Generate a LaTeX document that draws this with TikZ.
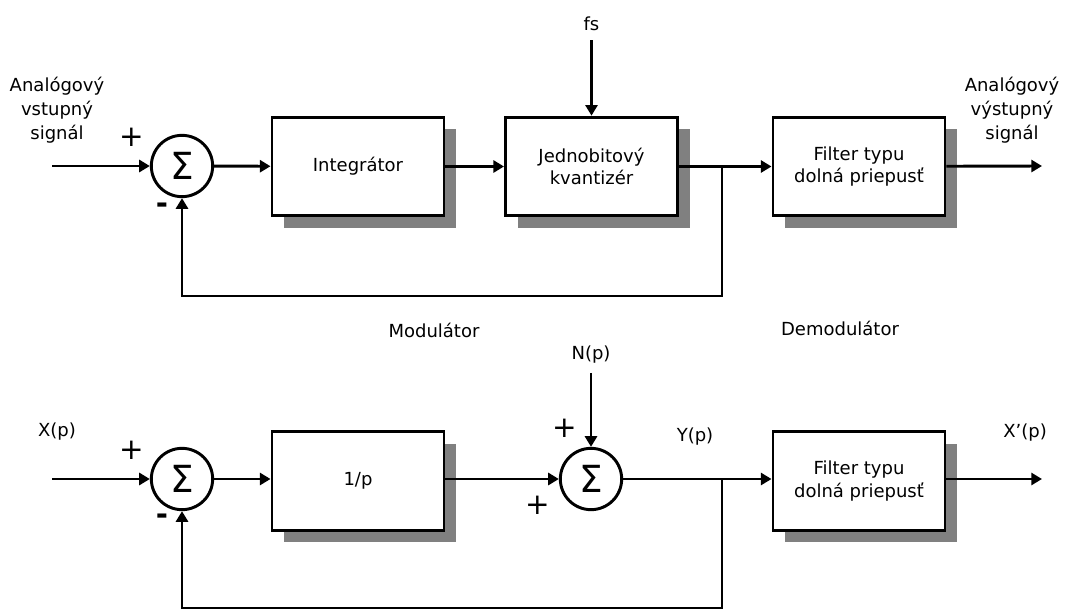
\documentclass[tikz,border=0pt]{standalone}
\usepackage{fontspec}
\setmainfont{DejaVu Sans}
\usepackage{tikz}
\usetikzlibrary{arrows.meta,positioning,calc,shadows}

\begin{document}
\begin{tikzpicture}[x=0.75pt, y=-0.75pt,
      bx/.style={draw, line width=2.2pt, fill=white, minimum width=129pt,
                 minimum height=74pt, align=center, font=\fontsize{13.5}{17}\selectfont,
                 drop shadow={shadow xshift=9pt, shadow yshift=-9pt,
                              fill=black!50, opacity=1}},
      sumc/.style={draw, circle, line width=2.2pt, fill=white, minimum size=46pt,
                   inner sep=0pt, font=\fontsize{28}{28}\selectfont},
      lbl/.style={align=center, inner sep=0pt, font=\fontsize{13.5}{18}\selectfont},
      sgn/.style={inner sep=0pt, font=\fontsize{22}{22}\selectfont},
      arr/.style={-{Triangle[length=8pt,width=9pt]}, line width=2.2pt}
    ]
      \useasboundingbox (0,0) rectangle (1078,610);
      % Upper chain: modulator and demodulator
      \node[lbl] (inA) at (57,110) {Analógový\\vstupný\\signál};
      \coordinate (inA0) at (52,166);
      \node[sumc] (sumA) at (182,166) {Σ};
      \node[sgn] (plusA) at (132,137) {+};
      \node[sgn] (minusA) at (162,208) {\textbf{-}};
      \node[bx] (integ) at (358,166.5) {Integrátor};
      \node[bx] (quant) at (591.5,166.5) {Jednobitový\\kvantizér};
      \node[lbl] (fs) at (591.5,24) {fs};
      \node[bx] (filtA) at (859,166.5) {Filter typu\\dolná priepusť};
      \coordinate (brA) at (722,166);
      \coordinate (outA) at (1042,166);
      \node[lbl] (outAlbl) at (1012,110) {Analógový\\výstupný\\signál};
      % Arrows
      \draw[arr] (inA0) -- (sumA);
      \draw[arr] (sumA) -- (integ);
      \draw[arr] (integ) -- (quant);
      \draw[arr] ($(fs.south)+(0,9)$) -- (quant.north);
      \draw[arr] (quant) -- (filtA);
      \draw[arr] (filtA) -- (outA);
      \draw[arr] (brA) -- (722,296) -| (sumA.south);

      % Middle captions
      \node[lbl] (modul) at (434,330) {Modulátor};
      \node[lbl] (demod) at (840,328) {Demodulátor};

      % Lower chain: linear model
      \node[lbl] (xp) at (57,432) {X(p)};
      \coordinate (inB0) at (52,479);
      \node[sumc] (sumB) at (182,479) {Σ};
      \node[sgn] (plusB) at (132,450) {+};
      \node[sgn] (minusB) at (162,519) {\textbf{-}};
      \node[bx] (inv) at (358,481) {1/p};
      \node[sumc] (sumN) at (591,479) {Σ};
      \node[lbl] (np) at (591,355) {N(p)};
      \node[sgn] (plusN) at (565,428) {+};
      \node[sgn] (plusY) at (538,505) {+};
      \node[lbl] (yp) at (695,437) {Y(p)};
      \node[bx] (filtB) at (859,481) {Filter typu\\dolná priepusť};
      \coordinate (brB) at (722,479);
      \coordinate (outB) at (1042,479);
      \node[lbl] (xout) at (1025,433) {X’(p)};
      % Arrows
      \draw[arr] (inB0) -- (sumB);
      \draw[arr] (sumB) -- (inv.west |- sumB);
      \draw[arr] (inv.east |- sumN) -- (sumN);
      \draw[arr] ($(np.south)+(0,9)$) -- (sumN.north);
      \draw[arr] (sumN) -- (filtB.west |- sumN);
      \draw[arr] (filtB.east |- outB) -- (outB);
      \draw[arr] (brB) -- (722,608) -| (sumB.south);
    \end{tikzpicture}
\end{document}
